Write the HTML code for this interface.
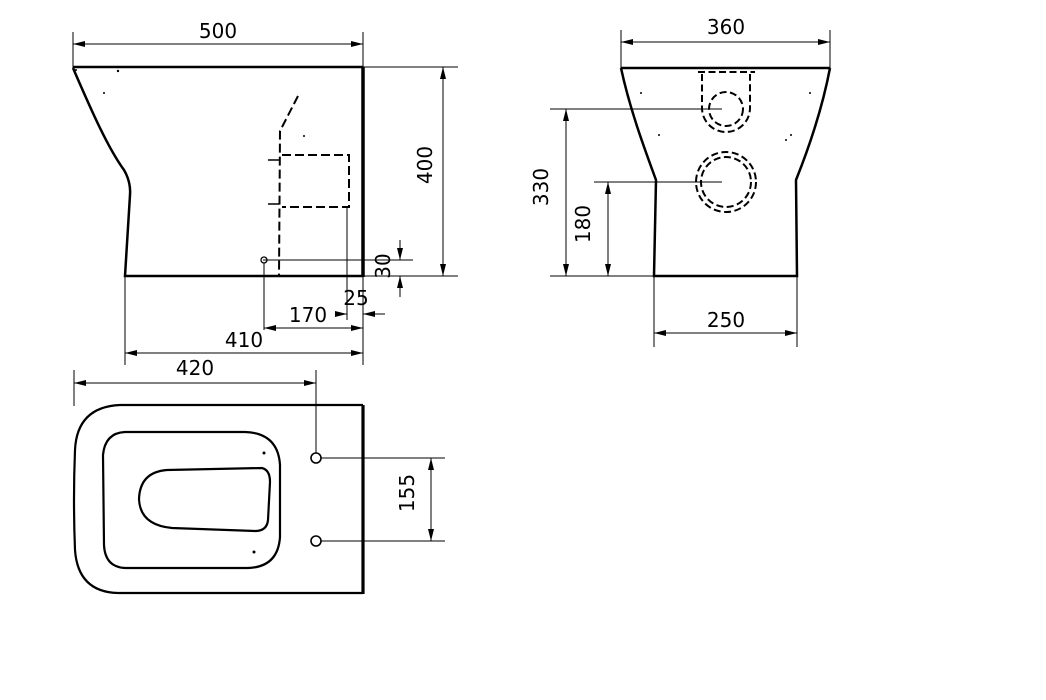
<!DOCTYPE html>
<html><head><meta charset="utf-8"><style>
html,body{margin:0;padding:0;background:#fff;}
svg{display:block;}
text{font-family:"DejaVu Sans","Liberation Sans",sans-serif;font-size:20px;fill:#000;}
</style></head><body>
<svg width="1046" height="700" viewBox="0 0 1046 700" xmlns="http://www.w3.org/2000/svg">
<defs>
<marker id="a" viewBox="0 0 12 6" refX="12" refY="3" markerWidth="12" markerHeight="6" markerUnits="userSpaceOnUse" orient="auto-start-reverse">
<path d="M0,0 L12,3 L0,6 z" fill="#000"/></marker>
</defs>
<g fill="none" stroke="#000" stroke-width="1">
<!-- SIDE VIEW -->
<line x1="73" y1="32" x2="73" y2="68"/><line x1="363" y1="32" x2="363" y2="67"/>
<line x1="73" y1="44" x2="363" y2="44" marker-start="url(#a)" marker-end="url(#a)"/>
<line x1="363" y1="67" x2="458" y2="67"/><line x1="363" y1="276" x2="458" y2="276"/>
<line x1="443" y1="67" x2="443" y2="276" marker-start="url(#a)" marker-end="url(#a)"/>
<line x1="263" y1="260" x2="413" y2="260"/>
<line x1="400" y1="240" x2="400" y2="260" marker-end="url(#a)"/>
<line x1="400" y1="297" x2="400" y2="276" marker-end="url(#a)"/>
<line x1="347" y1="207" x2="347" y2="320"/>
<line x1="363" y1="276" x2="363" y2="365"/>
<line x1="335" y1="314" x2="347" y2="314" marker-end="url(#a)"/>
<line x1="385" y1="314" x2="363" y2="314" marker-end="url(#a)"/>
<line x1="264" y1="263" x2="264" y2="330"/>
<line x1="264" y1="328" x2="363" y2="328" marker-start="url(#a)" marker-end="url(#a)"/>
<line x1="125" y1="276" x2="125" y2="365"/>
<line x1="125" y1="353" x2="363" y2="353" marker-start="url(#a)" marker-end="url(#a)"/>
<circle cx="264" cy="260" r="3" stroke-width="1.3"/>
<g stroke-width="2" stroke-dasharray="9,4">
<path d="M298,96 L280,131 L279,276"/>
<path d="M282,155 L349,155 L349,207 L282,207"/>
</g>
<line x1="268" y1="160" x2="279" y2="160" stroke-width="1.5"/>
<line x1="268" y1="204" x2="279" y2="204" stroke-width="1.5"/>
<g stroke-width="2.5">
<path d="M73,67 L363,67"/>
<path d="M73,68 C92,112 108,148 124,170 Q131,182 130,195 L125,276 L363,276"/>
</g>
<line x1="363" y1="67" x2="363" y2="277" stroke-width="3.5"/>

<!-- FRONT VIEW -->
<line x1="621" y1="30" x2="621" y2="68"/><line x1="830" y1="30" x2="830" y2="68"/>
<line x1="621" y1="42" x2="830" y2="42" marker-start="url(#a)" marker-end="url(#a)"/>
<line x1="550" y1="109" x2="722" y2="109"/>
<line x1="550" y1="276" x2="654" y2="276"/>
<line x1="566" y1="109" x2="566" y2="276" marker-start="url(#a)" marker-end="url(#a)"/>
<line x1="594" y1="182" x2="722" y2="182"/>
<line x1="608" y1="182" x2="608" y2="276" marker-start="url(#a)" marker-end="url(#a)"/>
<line x1="654" y1="276" x2="654" y2="347"/><line x1="797" y1="276" x2="797" y2="347"/>
<line x1="654" y1="333" x2="797" y2="333" marker-start="url(#a)" marker-end="url(#a)"/>
<g stroke-width="2" stroke-dasharray="7,3.5">
<path d="M698,72 L755,72 M702,74 L702,108 A24,24 0 0 0 750,108 L750,74"/>
<circle cx="726" cy="109" r="17"/>
<circle cx="726" cy="182" r="30"/>
<circle cx="726" cy="182" r="25"/>
</g>
<g stroke-width="2.5">
<path d="M621,68 L830,68"/>
<path d="M621,68 C630,110 645,150 656,180 L654,276 L797,276 L796,180 C808,150 822,110 830,68"/>
</g>

<!-- TOP VIEW -->
<line x1="74" y1="370" x2="74" y2="406"/>
<line x1="316" y1="370" x2="316" y2="453"/>
<line x1="74" y1="383" x2="316" y2="383" marker-start="url(#a)" marker-end="url(#a)"/>
<line x1="321" y1="458" x2="445" y2="458"/>
<line x1="321" y1="541" x2="445" y2="541"/>
<line x1="431" y1="458" x2="431" y2="541" marker-start="url(#a)" marker-end="url(#a)"/>
<circle cx="316" cy="458" r="5" stroke-width="1.6"/>
<circle cx="316" cy="541" r="5" stroke-width="1.6"/>
<g stroke-width="2.2">
<path d="M363,405 L120,405 Q77,407 75,450 Q73,500 75,550 Q78,592 118,593 L363,593"/>
<path d="M125,432 L245,432 Q278,433 280,465 L280,537 Q278,567 248,568 L125,568 Q105,567 104,545 L103,455 Q105,433 125,432 Z"/>
<path d="M167,470 L262,468 Q270,470 270,482 L268,520 Q267,531 255,531 L172,528 Q140,525 139,499 Q140,472 167,470 Z"/>
</g>
<line x1="363" y1="405" x2="363" y2="594" stroke-width="3.2"/>
</g>
<g fill="#000">
<circle cx="76" cy="70" r="1"/><circle cx="118" cy="71" r="1.2"/><circle cx="104" cy="93" r="1"/><circle cx="304" cy="136" r="1"/>
<circle cx="641" cy="93" r="1"/><circle cx="810" cy="93" r="1"/><circle cx="659" cy="135" r="1"/><circle cx="791" cy="135" r="1"/><circle cx="786" cy="140" r="1"/>
<circle cx="264" cy="453" r="1.5"/><circle cx="254" cy="552" r="1.5"/>
</g>
<text x="218" y="38" text-anchor="middle">500</text>
<text x="438" y="171" text-anchor="middle" transform="rotate(-90 432 171)">400</text>
<text x="392" y="268" text-anchor="middle" transform="rotate(-90 390 268)">30</text>
<text x="356" y="305" text-anchor="middle">25</text>
<text x="308" y="322" text-anchor="middle">170</text>
<text x="244" y="347" text-anchor="middle">410</text>
<text x="726" y="34" text-anchor="middle">360</text>
<text x="554" y="193" text-anchor="middle" transform="rotate(-90 548 193)">330</text>
<text x="596" y="230" text-anchor="middle" transform="rotate(-90 590 230)">180</text>
<text x="726" y="327" text-anchor="middle">250</text>
<text x="195" y="375" text-anchor="middle">420</text>
<text x="420" y="499" text-anchor="middle" transform="rotate(-90 414 499)">155</text>
</svg>
</body></html>
